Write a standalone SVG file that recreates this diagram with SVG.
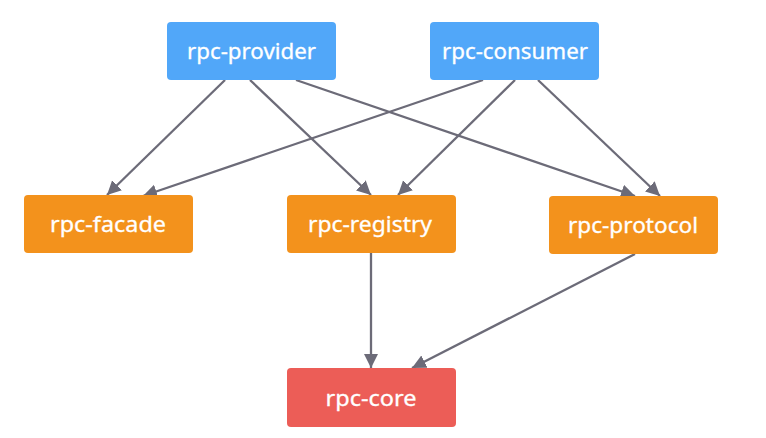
<svg xmlns="http://www.w3.org/2000/svg" width="766" height="438" viewBox="0 0 766 438">
<style>
.box{stroke:none}
.blue{fill:#51a7f9}
.orange{fill:#f3921c}
.red{fill:#ec5d57}
.lbl{font-family:"Noto Sans","Liberation Sans",sans-serif;font-size:21px;fill:#ffffff;text-anchor:middle;stroke:#ffffff;stroke-width:0.3}
.edge{stroke:#6c6b78;stroke-width:2.3;fill:none;marker-end:url(#arr)}
</style>
<defs>
<marker id="arr" markerUnits="userSpaceOnUse" markerWidth="15" markerHeight="15" refX="14" refY="7" orient="auto">
<path d="M0,0 L14,7 L0,14 Z" fill="#6c6b78"/>
</marker>
</defs>
<rect width="766" height="438" fill="#ffffff"/>
<g id="connectors">
<line class="edge" x1="225" y1="80" x2="107" y2="195"/>
<line class="edge" x1="250" y1="80" x2="371" y2="195"/>
<line class="edge" x1="296" y1="80" x2="635" y2="196"/>
<line class="edge" x1="483" y1="80" x2="143" y2="196"/>
<line class="edge" x1="515" y1="80" x2="398" y2="195"/>
<line class="edge" x1="538" y1="80" x2="660" y2="196"/>
<line class="edge" x1="371" y1="253" x2="371" y2="368"/>
<line class="edge" x1="635" y1="254" x2="412" y2="368"/>
</g>
<g id="rpc-provider">
<rect class="box blue" x="167" y="22" width="169" height="58" rx="4"/>
<text class="lbl" x="251.5" y="59" textLength="129" lengthAdjust="spacingAndGlyphs">rpc-provider</text>
</g>
<g id="rpc-consumer">
<rect class="box blue" x="430" y="22" width="169" height="58" rx="4"/>
<text class="lbl" x="515" y="59" textLength="146" lengthAdjust="spacingAndGlyphs">rpc-consumer</text>
</g>
<g id="rpc-facade">
<rect class="box orange" x="24" y="195" width="169" height="58" rx="4"/>
<text class="lbl" x="108" y="232" textLength="116" lengthAdjust="spacingAndGlyphs">rpc-facade</text>
</g>
<g id="rpc-registry">
<rect class="box orange" x="287" y="195" width="169" height="58" rx="4"/>
<text class="lbl" x="370" y="232" textLength="124" lengthAdjust="spacingAndGlyphs">rpc-registry</text>
</g>
<g id="rpc-protocol">
<rect class="box orange" x="549" y="196" width="169" height="58" rx="4"/>
<text class="lbl" x="633" y="233" textLength="130" lengthAdjust="spacingAndGlyphs">rpc-protocol</text>
</g>
<g id="rpc-core">
<rect class="box red" x="287" y="368" width="169" height="59" rx="4"/>
<text class="lbl" x="371" y="405.5" textLength="91" lengthAdjust="spacingAndGlyphs">rpc-core</text>
</g>
</svg>
